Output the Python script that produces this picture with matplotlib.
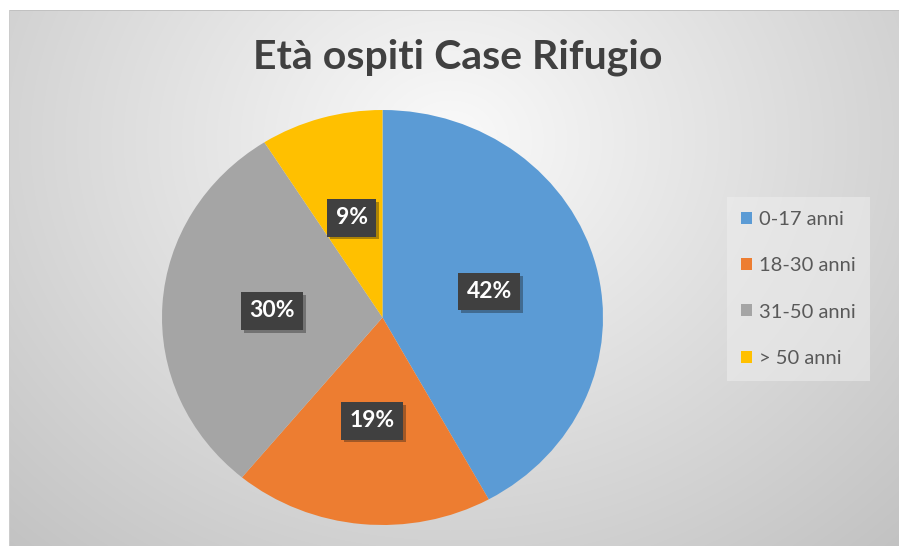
"""Età ospiti Case Rifugio - pie chart in the Excel 2013 style."""

import matplotlib

matplotlib.use("Agg")
import matplotlib.pyplot as plt
import numpy as np
from matplotlib import patheffects
from matplotlib.patches import Patch

categories = ["0-17 anni", "18-30 anni", "31-50 anni", "> 50 anni"]
values = [42, 19, 30, 9]
colors = ["#5B9BD5", "#ED7D31", "#A5A5A5", "#FFC000"]
title = "Età ospiti Case Rifugio"

W, H = 899, 546
fig = plt.figure(figsize=(W / 100, H / 100), dpi=100)

# radial grey background of the chart area
bg_ax = fig.add_axes([0, 0, 1, 1])
yy, xx = np.mgrid[0:H, 0:W]
d = np.sqrt(((xx - 450) / 560.0) ** 2 + ((yy - 140) / 480.0) ** 2)
shade = np.clip(250 - 48 * d, 190, 252) / 255.0
img = np.dstack([shade, shade, shade])
img[:10, :, :] = 1.0
img[:, :9, :] = 1.0
img[10, 9:, :] = 0.76
img[10:, 9, :] = 0.80
bg_ax.imshow(img, extent=(0, W, H, 0), aspect="auto", interpolation="bilinear")
bg_ax.set_xlim(0, W)
bg_ax.set_ylim(H, 0)
bg_ax.axis("off")

# pie axes: pixel box of the (slightly stretched) pie
left, right, top, bottom = 162, 603, 110, 525
ax = fig.add_axes([left / W, (H - bottom) / H, (right - left) / W, (bottom - top) / H])
wedges, texts, autotexts = ax.pie(
    values,
    colors=colors,
    startangle=90,
    counterclock=False,
    autopct=lambda p: f"{p:.0f}%",
    pctdistance=0.5,
    wedgeprops=dict(linewidth=0),
    textprops=dict(color="white", fontsize=16.5, fontweight="bold", family="Lato"),
)
ax.set_aspect("auto")
ax.set_xlim(-1, 1)
ax.set_ylim(-1, 1)
ax.axis("off")

for t in autotexts:
    t.set_bbox(dict(boxstyle="square,pad=0.36", facecolor="#404040", edgecolor="none"))
    t.get_bbox_patch().set_path_effects(
        [patheffects.SimplePatchShadow(offset=(2, -2), alpha=0.35), patheffects.Normal()]
    )

fig.text(458 / W, 1 - 57 / H, title, ha="center", va="center",
         fontsize=29.5, fontweight="bold", color="#404040", family="Lato")

handles = [Patch(facecolor=c, edgecolor="none") for c in colors]
leg = fig.legend(
    handles,
    categories,
    loc="upper left",
    bbox_to_anchor=(727 / W, 1 - 197 / H),
    frameon=True,
    labelcolor="#595959",
    handlelength=0.55,
    handleheight=0.55,
    handletextpad=0.35,
    labelspacing=1.45,
    borderpad=0.7,
    borderaxespad=0,
    prop=dict(family="Lato", size=14.5),
)
frame = leg.get_frame()
frame.set_facecolor("#eeeeee")
frame.set_alpha(0.55)
frame.set_edgecolor("none")
frame.set_boxstyle("square,pad=0")

fig.savefig("out.png", dpi=100)
